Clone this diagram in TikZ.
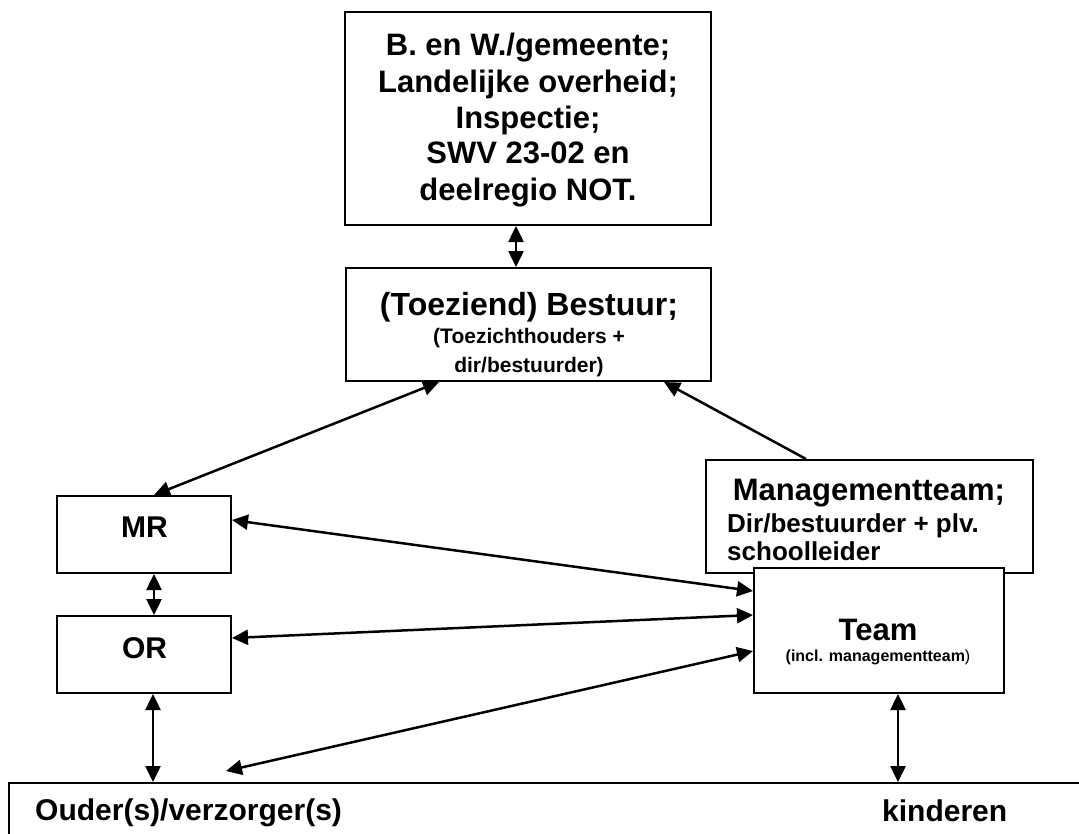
\documentclass[tikz,border=0pt]{standalone}
\usepackage{fontspec}
\setmainfont{Liberation Sans}
\usetikzlibrary{arrows.meta,calc}
\newcommand\fsz[1]{\fontsize{#1bp}{#1bp}\selectfont\bfseries}
\begin{document}
\begin{tikzpicture}[x=1bp,y=-1bp,
  box/.style={draw=black, line width=2bp, fill=white, inner sep=0pt},
  lbl/.style={anchor=base, inner sep=0pt},
  lblw/.style={anchor=base west, inner sep=0pt},
  con/.style={line width=2.5bp, {Triangle[length=16bp,width=15bp]}-{Triangle[length=16bp,width=15bp]}},
  one/.style={line width=2.5bp, -{Triangle[length=16bp,width=15bp]}}]
\useasboundingbox (0,0) rectangle (1079,834);
\clip (0,0) rectangle (1079,834);
\fill[white] (0,0) rectangle (1079,834);

% boxes
\node[box, minimum width=366bp, minimum height=213bp] (top) at (528,118.5) {};
\node[box, minimum width=365bp, minimum height=113bp] (bestuur) at (528.5,324.5) {};
\node[box, minimum width=174bp, minimum height=77bp] (mr) at (144,534.5) {};
\node[box, minimum width=174bp, minimum height=77bp] (orb) at (144,654.5) {};
\node[box, minimum width=327bp, minimum height=113bp] (mt) at (869.5,516.5) {};
\node[box, minimum width=250bp, minimum height=125bp] (team) at (879,630.5) {};
\node[box, minimum width=1100bp, minimum height=100bp] (ouder) at (559,833) {};

% texts
\node[lbl] (t1) at (528,55) {\fsz{31}B. en W./gemeente;};
\node[lbl] (t2) at (528,92) {\fsz{31}Landelijke overheid;};
\node[lbl] (t3) at (528,128) {\fsz{31}Inspectie;};
\node[lbl] (t4) at (528,163) {\fsz{31}SWV 23-02 en};
\node[lbl] (t5) at (528,200) {\fsz{31}deelregio NOT.};

\node[lbl] (b1) at (529,315) {\fsz{32}(Toeziend) Bestuur;};
\node[lbl] (b2) at (529,343) {\fsz{21}(Toezichthouders +};
\node[lbl] (b3) at (529,372) {\fsz{21}dir/bestuurder)};

\node[lbl] (m1) at (869,500) {\fsz{31}Managementteam;};
\node[lblw] (m2) at (727,532) {\fsz{26}Dir/bestuurder + plv.};
\node[lblw] (m3) at (727,560) {\fsz{26}schoolleider};

\node[lbl] (tm1) at (878,640) {\fsz{31}Team};
\node[lbl] (tm2) at (878,661) {\fsz{16}(incl. managementteam\mdseries)};

\node[lbl] (mrt) at (144.5,537) {\fsz{30}MR};
\node[lbl] (ort) at (144.5,658) {\fsz{30}OR};

\node[lblw] (ot) at (35,820) {\fsz{30}Ouder(s)/verzorger(s)};
\node[lblw] (kt) at (882,821) {\fsz{30}kinderen};

% connectors
\coordinate (a1) at ([xshift=-12bp]top.south);
\draw[con] (a1) -- (a1 |- bestuur.north);
\draw[con] ([xshift=94bp]bestuur.south west) -- ([xshift=98bp]mr.north west);
\draw[one] ([xshift=101bp]mt.north west) -- ([xshift=-48bp]bestuur.south east);
\draw[con] ([yshift=-25bp]mr.north east) -- ([yshift=-24bp]team.north west);
\draw[con] ([yshift=-23bp]orb.north east) -- ([yshift=-48bp]team.north west);
\draw[con] ([shift={(218bp,11bp)}]ouder.north west) -- ([yshift=-84bp]team.north west);
\coordinate (a7) at ([xshift=10bp]mr.south);
\draw[con] (a7) -- (a7 |- orb.north);
\coordinate (a8) at ([xshift=9bp]orb.south);
\draw[con] (a8) -- (a8 |- ouder.north);
\coordinate (a9) at ([xshift=19bp]team.south);
\draw[con] (a9) -- (a9 |- ouder.north);
\end{tikzpicture}
\end{document}
